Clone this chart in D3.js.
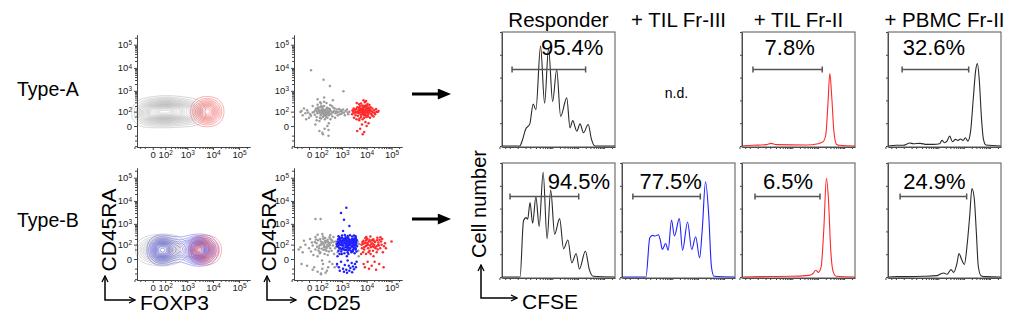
<!DOCTYPE html>
<html>
<head>
<meta charset="utf-8">
<script src="https://cdn.jsdelivr.net/npm/d3@7"></script>
<style>
  body { margin: 0; background: #fff; }
  svg { display: block; font-family: "Liberation Sans", Arial, sans-serif; }
</style>
</head>
<body>
<svg id="fig" width="1020" height="327"></svg>
<script>
// ---- data ----
const rowLabels = ["Type-A", "Type-B"];
const histHeaders = ["Responder", "+ TIL Fr-III", "+ TIL Fr-II", "+ PBMC Fr-II"];
const majorTicks = [0, 100, 1000, 10000, 100000];
const tickBase = ["0", "10", "10", "10", "10"];
const tickExp = ["", "2", "3", "4", "5"];
const minorTicks = [-200, -100, -50, 50, 200, 300, 400, 500, 600, 700, 800, 900,
  2000, 3000, 4000, 5000, 6000, 7000, 8000, 9000,
  20000, 30000, 40000, 50000, 60000, 70000, 80000, 90000, 200000];

// contour populations: [FOXP3, CD45RA, weight]
const contourAGray = [[-49, 85, 2], [11, 95, 3], [97, 100, 4], [304, 100, 3], [822, 95, 2], [1900, 90, 1.2]];
const contourARed = [[5950, 100, 6], [3500, 100, 1.2], [11000, 100, 1.2]];
const contourBGray = [[64, 45, 5], [-20, 45, 2], [250, 50, 2], [2600, 60, 1]];
const contourBBlue = [[64, 45, 4], [500, 50, 1.5], [2700, 45, 6], [6000, 45, 1.2]];
const contourBRed = [[4200, 45, 6], [8000, 45, 2], [225, 45, 0.6]];

// scatter populations: [CD25, CD45RA]
const scatterAGray = [[60,80],[120,95],[85,40],[150,120],[210,70],[45,150],[95,60],[180,110],[130,45],[70,130],
  [240,90],[110,75],[160,55],[55,100],[300,120],[90,170],[140,85],[200,140],[35,65],[260,60],
  [75,110],[190,95],[125,150],[165,30],[50,45],[230,115],[105,190],[280,80],[145,105],[80,20],
  [20,90],[350,100],[115,125],[175,70],[65,165],[220,40],[135,95],[95,115],[250,150],[155,80],
  [10,55],[40,120],[185,60],[330,70],[100,35],[270,105],[60,140],[210,160],[140,65],[30,100],
  [400,90],[120,180],[170,125],[85,85],[230,75],[50,25],[195,45],[105,100],[290,140],[150,200],
  [-20,80],[-40,60],[-10,120],[-60,95],[0,40],[-30,150],[5,70],[-15,30],[-50,110],[-5,90],
  [450,110],[520,80],[600,130],[700,95],[800,70],[900,120],[1000,100],[1200,85],[1400,110],[1700,90],
  [480,150],[650,60],[750,140],[550,100],[850,105],[1100,130],[1300,60],[950,75],[620,90],[1600,130],
  [380,50],[420,160],[360,200],[310,30],[500,40],[2000,100],[1800,70],
  [160,-10],[80,-20],[220,0],[120,-30],[40,5],[260,10],[100,260],[60,230],[200,280],[150,320],
  [130,-40],[300,220],[90,300],[250,-15],[20,200],
  [10,8000],[140,3100],[290,1650],[1140,960],[150,500],[400,380],[60,420],[250,-50]];
const scatterARed = [[5000,80],[7000,100],[9000,60],[6000,140],[4000,90],[11000,110],[8000,40],[5500,120],[12000,75],[3500,100],
  [7500,160],[10000,130],[4500,55],[6500,70],[13000,95],[9500,180],[3800,140],[8500,90],[5200,35],[14000,120],
  [6800,110],[4200,170],[11500,50],[7200,200],[9200,85],[5800,65],[16000,105],[3200,80],[10500,155],[6200,95],
  [8800,125],[4800,115],[12500,140],[7800,60],[5400,190],[9800,45],[3600,60],[15000,75],[6600,150],[11000,85],
  [4400,105],[8200,175],[13500,130],[5000,25],[7400,80],[10200,100],[3400,125],[9000,210],[6000,45],[12000,165],
  [18000,90],[20000,120],[22000,70],[25000,100],[17000,150],[19000,50],[30000,110],[24000,140],[21000,85],[28000,95],
  [2800,100],[2600,70],[3000,150],[2700,120],[3100,40],
  [5500,-10],[8000,-25],[6500,5],[10000,0],[4200,-20],[12000,10],[7000,-40],[9000,15],
  [6000,260],[8500,300],[5000,240],[11000,250],[7500,380],[13000,220],[4000,280],[9500,350],
  [6300,130],[7700,115],[8600,70],[5700,100],[9400,140],[10800,60],[4600,85],[7100,140],[6900,30],[8300,110],
  [5100,160],[11800,120],[14500,170],[16500,60],[4900,135],[7900,195],[10400,210],[3900,30],[13800,40],[6700,210]];
const scatterBGray = [[40,50],[90,30],[150,70],[20,90],[200,40],[110,110],[60,10],[250,80],[130,-20],[75,60],
  [180,130],[30,-40],[300,60],[100,150],[160,20],[50,120],[220,100],[140,45],[80,85],[10,35],
  [350,40],[120,-50],[190,75],[65,170],[270,120],[0,60],[-20,100],[-40,30],[-60,70],[-10,-30],
  [400,90],[450,20],[500,60],[550,110],[420,140],[380,-20],[480,-40],[600,80],[650,30],[520,150],
  [90,200],[170,220],[40,250],[230,180],[310,200],[130,260],[60,-80],[210,-70],[280,-10],[20,-60],
  [110,55],[145,90],[85,25],[175,50],[55,75],[230,15],[125,130],[95,100],[195,155],[35,140],
  [155,115],[70,40],[260,35],[115,-5],[205,65],[45,185],[165,160],[290,95],[25,15],[135,205],
  [240,140],[330,130],[360,170],[100,-100],[-30,160],[-50,-20],[-80,50],[5,200],[15,130],[280,240],
  [700,100],[800,50],[900,140],[1000,20],[750,170],[4200,80],[4600,40],[5000,110],[4400,150],[4800,10],
  [40,1650],[95,1650],[100,-110],[300,300],[60,320],[180,-90],[420,250],[600,-30],[120,350],[240,-40]];
const scatterBBlue = [[600,80],[650,150],[700,40],[750,110],[800,200],[850,60],[900,130],[950,20],[1000,90],[1100,170],
  [1200,50],[1300,120],[1400,240],[1500,75],[1600,140],[1700,30],[1800,100],[1900,190],[2000,55],[2200,125],
  [2400,85],[2600,160],[2800,45],[3000,110],[3200,210],[3400,65],[3600,135],[3800,95],[4000,175],[3900,35],
  [620,110],[680,190],[720,70],[780,20],[830,140],[880,95],[930,230],[980,50],[1050,150],[1150,85],
  [1250,25],[1350,180],[1450,100],[1550,45],[1650,210],[1750,130],[1850,70],[1950,150],[2100,95],[2300,40],
  [2500,190],[2700,120],[2900,75],[3100,155],[3300,25],[3500,100],[3700,220],[640,10],[760,250],[870,165],
  [990,105],[1080,60],[1180,200],[1280,140],[1380,70],[1480,170],[1580,10],[1680,85],[1780,235],[1880,45],
  [2050,175],[2250,120],[2450,30],[2650,90],[2850,200],[3050,60],[3250,145],[3450,180],[3650,55],[3850,120],
  [610,-20],[730,-40],[900,-10],[1100,-50],[1300,-25],[1500,-60],[1700,-5],[1900,-30],[2200,-45],[2500,-15],
  [2800,-35],[3100,-55],[3400,-20],[3700,-40],[3950,-10],[800,-70],[1200,-80],[1600,-90],[2000,-70],[2600,-85],
  [700,270],[1000,290],[1300,310],[1700,280],[2100,300],[2600,260],[3100,290],[3600,270],
  [660,130],[710,95],[790,60],[840,175],[920,35],[1020,220],[1120,115],[1220,160],[1320,45],[1420,205],
  [1520,125],[1620,65],[1720,155],[1820,20],[1920,110],[2150,60],[2350,150],[2550,75],[2750,35],[2950,135],
  [3150,90],[3350,165],[3550,50],[3750,150],[3980,80],
  [1200,1500],[900,3000],[1500,5000],[2000,800],[1100,480]];
const scatterBRed = [[8000,50],[10000,90],[12000,30],[9000,130],[15000,70],[7000,110],[11000,-10],[14000,150],[18000,40],[20000,100],
  [6500,60],[13000,180],[16000,-30],[9500,20],[25000,80],[7500,160],[17000,120],[11500,60],[22000,140],[8500,-40],
  [6200,100],[19000,10],[28000,50],[10500,200],[13500,90],[7200,30],[30000,130],[12500,-50],[9200,80],[16500,170],
  [35000,60],[40000,100],[45000,30],[38000,150],[50000,80],[32000,-20],[60000,60],[42000,200],[27000,230],[24000,-60],
  [6800,140],[8800,220],[10800,120],[14500,20],[18500,190],[21000,-10],[23000,60],[26000,170],[11200,100],[7800,70],
  [9800,250],[13200,40],[15500,110],[6000,20],[20500,70],[29000,100],[33000,180],[12200,150],[17500,80],[8200,120],
  [100000,150],[55000,120],[48000,-40],[36000,240],[7600,-20],[9600,170],[14200,260],[19500,160],[25500,30],[31000,90]];

// CFSE histograms: [position % of axis, count % of panel height]
const histRespA = [[0,0],[15.7,0],[18,5],[20.8,14.5],[24.6,19.4],[27.6,36.7],[30.0,31.8],[34.1,87.6],[37.7,37.6],[41.2,85.8],[44.8,39.0],[48.4,67.1],[51.9,26.0],[57.3,42.2],[60.2,15.9],[62.6,22.3],[66.2,13.0],[69.1,19.4],[72.1,11.6],[76.3,18.8],[79.2,5.8],[82.2,0],[100,0]];
const histTilIIA = [[0,0],[9.5,0.6],[21.4,1.2],[25.8,2.3],[30.3,1.2],[57.0,0.9],[67.4,2.0],[71.8,3.8],[74.2,10.1],[76.0,36.1],[77.7,63.6],[79.5,41.9],[81.3,13.0],[83.7,1.4],[86.6,0.6],[100,0]];
const histPbmcA = [[0,0],[7.5,0.6],[13.4,0.6],[19.4,2.6],[22.4,2.0],[28.4,2.3],[34.3,1.4],[40.3,1.4],[45.7,2.0],[47.8,4.9],[49.9,2.9],[52.2,4.3],[54.6,8.7],[57.0,3.8],[59.7,5.8],[61.8,4.9],[64.2,6.1],[66.6,4.9],[68.4,7.2],[70.7,4.3],[73.1,13.0],[75.5,41.9],[77.6,66.5],[79.1,72.3],[80.9,56.4],[82.7,24.6],[84.5,5.8],[86.6,0.9],[100,0]];
const histRespB = [[0,0],[16.0,0],[19.0,49.1],[21.3,52.1],[22.7,50.6],[24.8,65.3],[27.1,47.1],[30.0,70.3],[32.9,44.4],[36.4,91.8],[39.9,33.5],[43.1,76.2],[46.6,37.6],[51.0,51.2],[54.5,24.7],[58.3,32.4],[61.8,12.4],[65.6,20.6],[68.5,7.1],[73.8,22.6],[77.3,6.5],[80.8,0.6],[100,0]];
const histTilIIIB = [[0,0],[21.2,0],[24.6,34.4],[27.0,36.5],[29.3,35.9],[32.2,37.1],[33.9,32.4],[35.7,24.1],[38.6,29.4],[40.9,23.5],[43.8,50.0],[46.4,35.9],[50.7,51.2],[53.6,23.5],[58.0,48.2],[61.7,24.1],[65.2,35.3],[68.7,16.8],[71.0,41.2],[73.9,83.5],[76.8,53.5],[79.1,9.4],[81.4,0.6],[100,0]];
const histTilIIB = [[0,0],[15.3,0.3],[41.8,0.6],[56.5,1.2],[60.9,1.8],[62.9,3.2],[65.3,5.9],[67.6,4.1],[70.0,8.8],[72.4,41.8],[74.7,86.5],[76.5,68.2],[78.5,24.1],[80.6,5.0],[83.5,0.6],[100,0]];
const histPbmcB = [[0,0],[8.0,0.3],[16.8,0.3],[31.6,0.6],[43.4,1.2],[46.3,2.6],[49.3,3.5],[52.2,2.4],[55.8,6.5],[58.1,4.1],[61.1,12.4],[62.8,20.6],[65.2,15.3],[67.6,10.9],[69.9,27.1],[72.3,53.5],[74.3,77.6],[76.4,68.2],[78.2,38.8],[79.9,9.4],[82.3,1.2],[86.1,0.3],[100,0]];

// gates: [from %, to %, height %] and their percentages
const gatesA = [[8.9, 74, 67], null, [9.7, 71, 67], [12.5, 71.4, 67]];
const gatesB = [[7.1, 67.9, 70.7], [9.6, 69.3, 70.7], [11.5, 69, 70.7], [10.7, 69.6, 70.7]];
const pctA = ["95.4%", null, "7.8%", "32.6%"];
const pctB = ["94.5%", "77.5%", "6.5%", "24.9%"];

// ---- layout ----
const svg = d3.select("#fig");
const panelTops = [35, 168], panelH = 112;
const contourLeft = 137, contourW = 113;
const scatterLeft = 294, scatterW = 108;
const histLefts = [502, 622, 742, 888], histW = 113;
const histTops = [32, 163], histH = 115;
const pctLabelPos = [[[34.5, 80], null, [20, 80], [13, 80]], [[40.5, 77], [15.5, 77], [18.5, 77], [13.5, 77]]];

const defs = svg.append("defs");
defs.append("marker").attr("id", "chev").attr("viewBox", "0 0 8 8")
  .attr("refX", 7).attr("refY", 4).attr("markerWidth", 8).attr("markerHeight", 8)
  .attr("markerUnits", "userSpaceOnUse").attr("orient", "auto-start-reverse")
  .append("path").attr("d", "M1,1 L7,4 L1,7").attr("fill", "none").attr("stroke", "#000").attr("stroke-width", 1.3);
defs.append("marker").attr("id", "tri").attr("viewBox", "0 0 12 10")
  .attr("refX", 2).attr("refY", 5).attr("markerWidth", 14).attr("markerHeight", 11)
  .attr("markerUnits", "userSpaceOnUse").attr("orient", "auto")
  .append("path").attr("d", "M0,0 L12,5 L0,10 Z").attr("fill", "#000");

function logScales(left, w, top) {
  const x = d3.scaleSymlog().constant(50).domain([-150, 262144]).range([left, left + w]);
  const y = d3.scaleSymlog().constant(31.5).domain([-220, 262144]).range([top + panelH, top]);
  return {x, y};
}

function addExp(g) {
  g.selectAll(".tick text").each(function(d, i) {
    if (tickExp[i]) d3.select(this).append("tspan").attr("dy", "-0.45em").attr("font-size", "6.5px").text(tickExp[i]);
  });
}

function drawLogAxes(s, top) {
  const bottom = top + panelH;
  const left = s.x.range()[0];
  svg.append("g").attr("transform", `translate(0,${bottom})`)
    .call(d3.axisBottom(s.x).tickValues(minorTicks).tickSize(2).tickSizeOuter(0).tickFormat(""));
  const gx = svg.append("g").attr("transform", `translate(0,${bottom})`)
    .call(d3.axisBottom(s.x).tickValues(majorTicks).tickSize(3).tickPadding(1).tickSizeOuter(0).tickFormat((d, i) => tickBase[i]));
  svg.append("g").attr("transform", `translate(${left},0)`)
    .call(d3.axisLeft(s.y).tickValues(minorTicks).tickSize(2).tickSizeOuter(0).tickFormat(""));
  const gy = svg.append("g").attr("transform", `translate(${left},0)`)
    .call(d3.axisLeft(s.y).tickValues(majorTicks).tickSize(3).tickPadding(2).tickSizeOuter(0).tickFormat((d, i) => tickBase[i]));
  for (const g of [gx, gy]) {
    g.selectAll("text").attr("font-size", "9.5px").attr("fill", "#222").attr("font-family", "Liberation Sans, Arial, sans-serif");
    addExp(g);
  }
}

function drawContours(s, top, pops) {
  const left = s.x.range()[0];
  const g = svg.append("g").attr("transform", `translate(${left},${top})`);
  for (const [data, color] of pops) {
    const dens = d3.contourDensity()
      .x(d => s.x(d[0]) - left)
      .y(d => s.y(d[1]) - top)
      .weight(d => d[2])
      .size([contourW, panelH])
      .cellSize(1)
      .bandwidth(6.5)
      .thresholds(16)(data);
    g.append("g").selectAll("path").data(dens).join("path")
      .attr("d", d3.geoPath())
      .attr("fill", "none")
      .attr("stroke", color)
      .attr("stroke-width", 0.6)
      .attr("stroke-opacity", 0.75);
  }
}

function drawDots(s, pops) {
  for (const [data, color] of pops) {
    svg.append("g").selectAll("circle").data(data).join("circle")
      .attr("cx", d => s.x(d[0])).attr("cy", d => s.y(d[1]))
      .attr("r", 1.25).attr("fill", color);
  }
}

const gray = "#9c9c9c", red = "#ff2a2a", blue = "#2020ff";
const contourPops = [
  [[contourAGray, "#a0a0a0"], [contourARed, "#f04848"]],
  [[contourBGray, "#a0a0a0"], [contourBBlue, "#4848e8"], [contourBRed, "#f04848"]]
];
const scatterPops = [
  [[scatterAGray, gray], [scatterARed, red]],
  [[scatterBGray, gray], [scatterBBlue, blue], [scatterBRed, red]]
];

panelTops.forEach((top, r) => {
  const cs = logScales(contourLeft, contourW, top);
  drawContours(cs, top, contourPops[r]);
  drawLogAxes(cs, top);
  const ss = logScales(scatterLeft, scatterW, top);
  drawDots(ss, scatterPops[r]);
  drawLogAxes(ss, top);
  svg.append("text").attr("x", 17).attr("y", [96, 227][r]).attr("font-size", "19.5px").text(rowLabels[r]);
  // big arrow
  const ay = [94, 219][r];
  svg.append("line").attr("x1", 412).attr("x2", 440).attr("y1", ay).attr("y2", ay)
    .attr("stroke", "#000").attr("stroke-width", 3).attr("marker-end", "url(#tri)");
});

// axis titles
function cornerArrow(x0, y0, y1, x1) {
  svg.append("path").attr("d", `M${x0},${y0} V${y1} H${x1}`)
    .attr("fill", "none").attr("stroke", "#000").attr("stroke-width", 1.5)
    .attr("marker-start", "url(#chev)").attr("marker-end", "url(#chev)");
}
cornerArrow(105, 276, 300, 135);
cornerArrow(267, 276, 300, 296);
cornerArrow(481, 265, 298, 517);
svg.append("text").attr("transform", "translate(116,230) rotate(-90)").attr("text-anchor", "middle")
  .attr("font-size", "21px").text("CD45RA");
svg.append("text").attr("transform", "translate(276,230) rotate(-90)").attr("text-anchor", "middle")
  .attr("font-size", "21px").text("CD45RA");
svg.append("text").attr("x", 140).attr("y", 310).attr("font-size", "21px").text("FOXP3");
svg.append("text").attr("x", 307).attr("y", 310).attr("font-size", "21px").text("CD25");
svg.append("text").attr("transform", "translate(486,204) rotate(-90)").attr("text-anchor", "middle")
  .attr("font-size", "20px").text("Cell number");
svg.append("text").attr("x", 522).attr("y", 309).attr("font-size", "21px").text("CFSE");

// ---- histograms ----
const histData = [[histRespA, null, histTilIIA, histPbmcA], [histRespB, histTilIIIB, histTilIIB, histPbmcB]];
const histColors = ["#2a2a2a", blue, red, "#2a2a2a"];
const gates = [gatesA, gatesB];
const pcts = [pctA, pctB];
const cfseAxis = d3.scaleSymlog().constant(50).domain([-150, 262144]);

histHeaders.forEach((h, c) => {
  svg.append("text").attr("x", histLefts[c] + histW / 2).attr("y", 27).attr("text-anchor", "middle")
    .attr("font-size", "20.5px").text(h);
});

histTops.forEach((top, r) => {
  histLefts.forEach((left, c) => {
    const data = histData[r][c];
    if (!data) {
      svg.append("text").attr("x", left + histW / 2 - 2).attr("y", top + 66).attr("text-anchor", "middle")
        .attr("font-size", "14px").text("n.d.");
      return;
    }
    const x = d3.scaleLinear().domain([0, 100]).range([left, left + histW]);
    const y = d3.scaleLinear().domain([0, 100]).range([top + histH - 1, top]);
    cfseAxis.range([left, left + histW]);
    svg.append("g").attr("transform", `translate(0,${top + histH})`)
      .call(d3.axisBottom(cfseAxis).tickValues(majorTicks.concat(minorTicks)).tickSize(2).tickSizeOuter(0).tickFormat(""));
    svg.append("g").attr("transform", `translate(${left},0)`)
      .call(d3.axisLeft(y).tickValues([0, 20, 40, 60, 80, 100]).tickSize(2).tickSizeOuter(0).tickFormat(""));
    svg.append("path").datum(data)
      .attr("d", d3.line().x(d => x(d[0])).y(d => y(d[1])).curve(d3.curveMonotoneX))
      .attr("fill", "none").attr("stroke", histColors[c]).attr("stroke-width", 1.1);
    svg.append("rect").attr("x", left).attr("y", top).attr("width", histW).attr("height", histH)
      .attr("fill", "none").attr("stroke", "#555").attr("stroke-width", 1);
    const gt = gates[r][c];
    const gy = y(gt[2]);
    svg.append("path")
      .attr("d", `M${x(gt[0])},${gy - 3}V${gy + 3}M${x(gt[0])},${gy}H${x(gt[1])}M${x(gt[1])},${gy - 3}V${gy + 3}`)
      .attr("stroke", "#555").attr("stroke-width", 1.5).attr("fill", "none");
    const lp = pctLabelPos[r][c];
    svg.append("text").attr("x", x(lp[0])).attr("y", y(lp[1])).attr("font-size", "22px").text(pcts[r][c]);
  });
});
svg.selectAll(".domain, .tick line").attr("stroke", "#444");
</script>
</body>
</html>
